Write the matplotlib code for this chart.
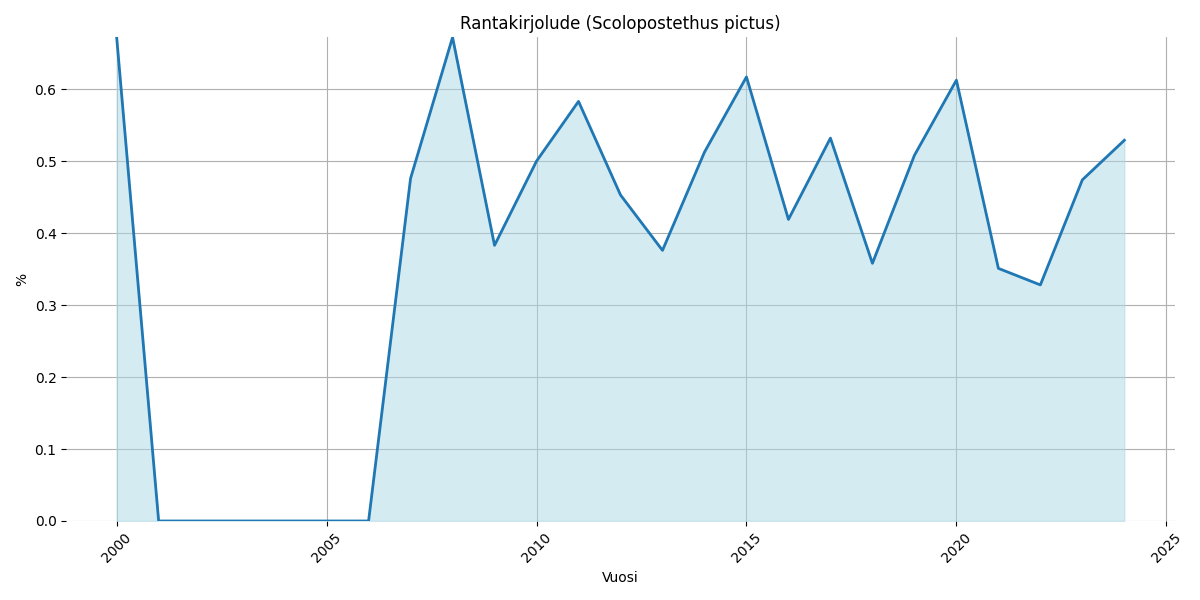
import matplotlib
matplotlib.use('Agg')
import matplotlib.pyplot as plt

# yearly share (%)
years = list(range(2000, 2025))
share = [0.672, 0.0, 0.0, 0.0, 0.0, 0.0, 0.0, 0.476, 0.672, 0.383,
         0.500, 0.583, 0.453, 0.376, 0.5125, 0.617, 0.419, 0.532, 0.358,
         0.508, 0.6125, 0.351, 0.328, 0.474, 0.529]

fig, ax = plt.subplots(figsize=(12, 6), dpi=100)
ax.fill_between(years, share, color='lightblue', alpha=0.5)
ax.plot(years, share, color='#1f77b4', linewidth=2)
ax.set_ylim(0, max(share))
ax.set_title('Rantakirjolude (Scolopostethus pictus)')
ax.set_xlabel('Vuosi')
ax.set_ylabel('%')
ax.grid(True, color='#b0b0b0')
ax.set_axisbelow(True)
for s in ax.spines.values():
    s.set_visible(False)
plt.xticks(rotation=45)
plt.tight_layout()
plt.savefig('out.png')
